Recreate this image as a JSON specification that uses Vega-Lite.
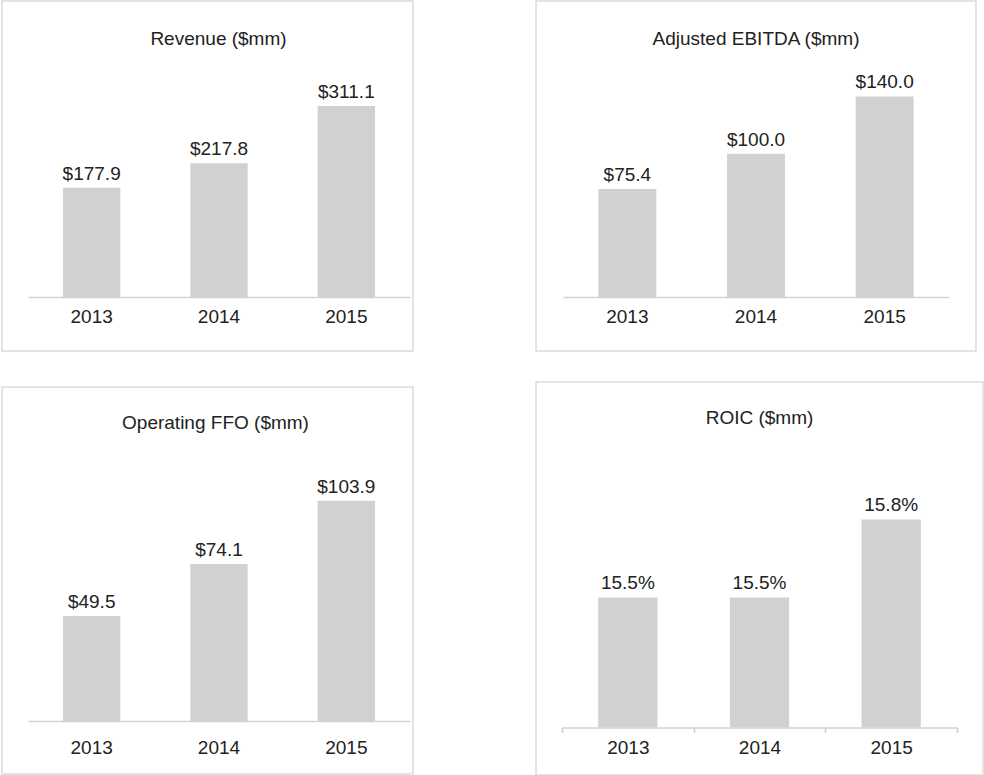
{
  "$schema": "https://vega.github.io/schema/vega-lite/v6.json",
  "padding": {"left": 1, "top": 0, "right": 0, "bottom": 0},
  "background": "white",
  "config": {
    "view": {"stroke": "#dcdcdc", "strokeWidth": 1.5},
    "font": "Liberation Sans",
    "title": {"fontSize": 19, "fontWeight": "normal", "color": "#222222", "anchor": "middle", "frame": "group", "baseline": "alphabetic", "font": "Liberation Sans"},
    "axisX": {"domainColor": "#d3d3d3", "domainWidth": 1.5, "ticks": false, "labelFontSize": 19, "labelColor": "#222222", "labelAngle": 0, "title": null, "grid": false, "labelFont": "Liberation Sans"},
    "bar": {"color": "#d0d1d3"},
    "text": {"fontSize": 19, "color": "#222222", "baseline": "alphabetic", "dy": -8, "font": "Liberation Sans"}
  },
  "spacing": 121,
  "hconcat": [
    {
      "spacing": 34,
      "vconcat": [
        {
          "width": 411, "height": 350,
          "title": {"text": "Revenue ($mm)", "offset": -48, "dx": 11},
          "data": {"values": [{"year": "2013", "value": 177.9}, {"year": "2014", "value": 217.8}, {"year": "2015", "value": 311.1}]},
          "encoding": {
            "x": {"field": "year", "type": "nominal", "scale": {"range": [26, 408], "paddingInner": 0.55, "paddingOuter": 0.275}, "axis": {"offset": -54, "labelPadding": 10}},
            "y": {"field": "value", "type": "quantitative", "scale": {"domain": [-87.9, 482.1], "nice": false}, "axis": null}
          },
          "layer": [
            {"mark": {"type": "bar"}, "encoding": {"y2": {"datum": 0}}},
            {"mark": {"type": "text"}, "encoding": {"text": {"field": "value", "type": "quantitative", "format": "$.1f"}}}
          ]
        },
        {
          "width": 411, "height": 387,
          "title": {"text": "Operating FFO ($mm)", "offset": -46, "dx": 8},
          "data": {"values": [{"year": "2013", "value": 49.5}, {"year": "2014", "value": 74.1}, {"year": "2015", "value": 103.9}]},
          "encoding": {
            "x": {"field": "year", "type": "nominal", "scale": {"range": [26, 408], "paddingInner": 0.55, "paddingOuter": 0.275}, "axis": {"offset": -53, "labelPadding": 17}},
            "y": {"field": "value", "type": "quantitative", "scale": {"domain": [-25.0, 157.6], "nice": false}, "axis": null}
          },
          "layer": [
            {"mark": {"type": "bar"}, "encoding": {"y2": {"datum": 0}}},
            {"mark": {"type": "text"}, "encoding": {"text": {"field": "value", "type": "quantitative", "format": "$.1f"}}}
          ]
        }
      ]
    },
    {
      "spacing": 29,
      "vconcat": [
        {
          "width": 440, "height": 350,
          "title": {"text": "Adjusted EBITDA ($mm)", "offset": -48},
          "data": {"values": [{"year": "2013", "value": 75.4}, {"year": "2014", "value": 100.0}, {"year": "2015", "value": 140.0}]},
          "encoding": {
            "x": {"field": "year", "type": "nominal", "scale": {"range": [27, 413], "paddingInner": 0.55, "paddingOuter": 0.275}, "axis": {"offset": -54, "labelPadding": 10}},
            "y": {"field": "value", "type": "quantitative", "scale": {"domain": [-37.7, 206.6], "nice": false}, "axis": null}
          },
          "layer": [
            {"mark": {"type": "bar"}, "encoding": {"y2": {"datum": 0}}},
            {"mark": {"type": "text"}, "encoding": {"text": {"field": "value", "type": "quantitative", "format": "$.1f"}}}
          ]
        },
        {
          "width": 447, "height": 393,
          "title": {"text": "ROIC ($mm)", "offset": -46},
          "data": {"values": [{"year": "2013", "value": 0.155}, {"year": "2014", "value": 0.155}, {"year": "2015", "value": 0.158}]},
          "encoding": {
            "x": {"field": "year", "type": "nominal", "scale": {"range": [26, 421], "paddingInner": 0, "paddingOuter": 0}, "axis": {"offset": -47.5, "labelPadding": 6, "ticks": true, "tickSize": 5, "tickWidth": 1.5, "tickColor": "#cfcfcf", "tickBand": "extent"}},
            "y": {"field": "value", "type": "quantitative", "scale": {"domain": [0.148173, 0.163288], "nice": false, "zero": false}, "axis": null}
          },
          "layer": [
            {"mark": {"type": "bar", "width": {"band": 0.45}}, "encoding": {"y2": {"datum": 0.15}}},
            {"mark": {"type": "text"}, "encoding": {"text": {"field": "value", "type": "quantitative", "format": ".1%"}}}
          ]
        }
      ]
    }
  ]
}
